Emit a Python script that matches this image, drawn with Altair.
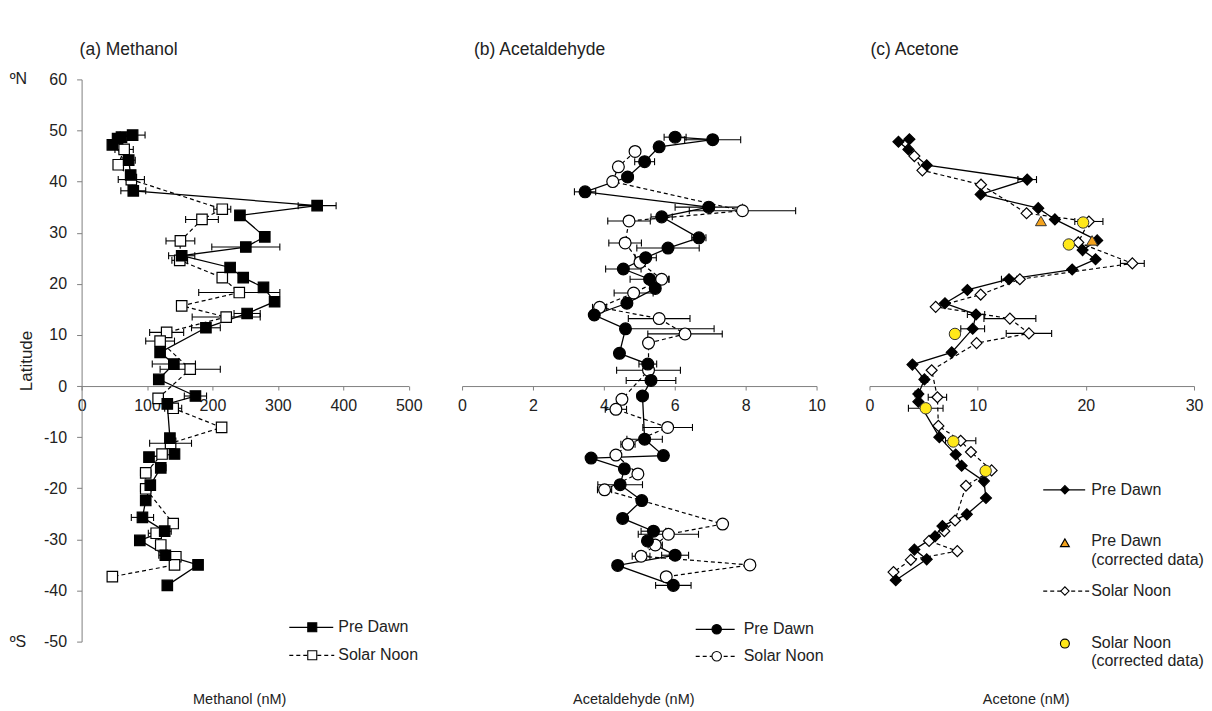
import altair as alt
import pandas as pd

FONT = "Liberation Sans"
TXT = "#222222"
AX = "#7f7f7f"

LAT_MIN, LAT_MAX = -50, 60
H = 563
W_A, W_B, W_C = 327.6, 355, 325
GAP = 53

# ---------------- (a) Methanol ----------------
meoh_pre_lat = [49.1, 48.7, 48.4, 47.2, 44.2, 41.3, 38.2, 35.3, 33.4, 29.2, 27.2, 25.5, 23.2, 21.2, 19.3,
                16.5, 14.2, 11.4, 6.6, 4.3, 1.3, -1.95, -3.5, -10.2, -13.3, -13.9, -16.0, -19.4, -22.4,
                -25.7, -28.4, -30.2, -33.1, -35.0, -39.0]
meoh_pre_val = [78, 61, 55, 47, 72, 75, 79, 360, 242, 280, 251, 153, 227, 247, 278,
                295, 253, 190, 120, 141, 118, 174, 131, 135, 142, 103, 121, 105, 98,
                93, 127, 89, 128, 178, 131]
meoh_pre_err = [19, 0, 0, 0, 10, 0, 19, 29, 0, 0, 52, 20, 0, 0, 0,
                0, 20, 22, 0, 33, 0, 17, 0, 0, 0, 0, 8, 0, 6,
                17, 10, 0, 10, 0, 0]
meoh_sn_lat = [46.3, 43.3, 40.4, 34.6, 32.6, 28.4, 24.6, 21.2, 18.3, 15.7, 13.5, 10.5, 8.8, 3.3,
               -2.4, -4.35, -8.1, -11.2, -13.3, -17.0, -20.1, -26.9, -28.8, -31.1, -33.4, -35.0, -37.3]
meoh_sn_val = [65, 56, 76, 215, 184, 151, 150, 215, 241, 153, 221, 130, 120, 166,
               117, 140, 214, 136, 123, 98, 98, 140, 114, 121, 144, 142, 47]
meoh_sn_err = [14, 0, 20, 13, 25, 22, 12, 0, 62, 5, 52, 26, 22, 46,
               0, 13, 0, 32, 0, 8, 8, 6, 12, 0, 0, 0, 0]

# ---------------- (b) Acetaldehyde ----------------
ald_pre_lat = [48.7, 48.2, 46.8, 43.9, 40.9, 38.0, 35.0, 33.1, 29.0, 27.0, 25.1, 22.9, 20.9, 19.1, 16.2,
               13.9, 11.2, 6.4, 4.3, 1.1, -1.95, -10.4, -13.6, -14.1, -16.2, -19.3, -22.4, -25.9,
               -28.4, -30.3, -33.1, -35.1, -39.0]
ald_pre_val = [6.01, 7.07, 5.56, 5.15, 4.67, 3.47, 6.96, 5.63, 6.68, 5.81, 5.18, 4.55, 5.29, 5.45, 4.65,
               3.73, 4.61, 4.44, 5.24, 5.33, 5.09, 5.15, 5.68, 3.64, 4.58, 4.46, 5.07, 4.53,
               5.40, 5.23, 6.01, 4.39, 5.96]
ald_pre_err = [0.31, 0.79, 0, 0.28, 0.15, 0.3, 0.95, 0.3, 0.2, 0.88, 0.3, 0.5, 0.55, 0, 0,
               0, 0, 0, 0.25, 0.7, 0.15, 0.5, 0, 0, 0, 0.63, 0, 0,
               0.35, 0, 0.38, 0, 0.5]
# one-sided (plus only) error bar of the pre-dawn point at 11.2 N
ald_pre_plus_lat = [11.2]
ald_pre_plus_val = [4.61]
ald_pre_plus_err = [2.5]
ald_sn_lat = [45.9, 42.9, 40.0, 34.3, 32.3, 28.0, 24.2, 20.9, 18.2, 15.4, 13.2, 10.2, 8.4, 3.1,
              -2.6, -4.55, -8.1, -11.4, -13.5, -17.2, -20.3, -27.0, -29.0, -31.1, -33.3, -35.0, -37.3]
ald_sn_val = [4.88, 4.41, 4.25, 7.91, 4.71, 4.60, 5.02, 5.63, 4.84, 3.88, 5.56, 6.29, 5.26, 5.26,
              4.51, 4.34, 5.80, 4.68, 4.34, 4.96, 4.02, 7.35, 5.82, 5.45, 5.05, 8.12, 5.76]
ald_sn_err = [0, 0, 0, 1.5, 0.6, 0.46, 0, 0.2, 0.55, 0.2, 0.87, 1.05, 0, 0.9,
              0, 0.3, 0.7, 0.2, 0, 0, 0.2, 0.1, 0.85, 0.2, 0.25, 0, 0]

# ---------------- (c) Acetone ----------------
ace_pre_lat = [48.3, 47.8, 46.3, 43.2, 40.4, 37.5, 34.8, 32.6, 28.5, 26.6, 24.8, 22.8, 20.9, 18.8, 16.2,
               14.0, 11.2, 6.6, 4.2, 1.3, -1.56, -3.05, -10.0, -13.4, -15.6, -18.6, -21.9, -25.1,
               -27.4, -29.4, -32.0, -33.9, -38.0]
ace_pre_val = [3.69, 2.68, 3.60, 5.29, 14.58, 10.28, 15.60, 17.14, 21.05, 19.70, 20.90, 18.74, 12.90, 9.05, 6.98,
               9.85, 9.54, 7.60, 3.97, 5.08, 4.52, 4.52, 6.46, 7.97, 8.52, 10.58, 10.77, 9.00,
               6.74, 6.06, 4.15, 5.29, 2.43]
ace_pre_err = [0, 0, 0, 0, 0.86, 0, 0, 0, 0, 0, 0, 0, 0.7, 0, 0,
               0.8, 1.1, 0, 0, 0.3, 0.3, 0, 0, 0, 0, 0, 0, 0,
               0, 0, 0, 0, 0]
ace_sn_lat = [45.0, 42.2, 39.4, 33.8, 32.2, 28.1, 24.0, 20.9, 17.9, 15.5, 13.2, 10.3, 8.4, 3.1,
              -2.2, -7.8, -10.7, -12.9, -16.5, -19.5, -26.3, -28.4, -30.3, -32.3, -34.0, -36.4]
ace_sn_val = [4.15, 4.89, 10.31, 14.52, 20.28, 19.30, 24.30, 13.90, 10.28, 6.12, 12.98, 14.74, 9.90, 5.75,
              6.28, 6.37, 8.43, 9.38, 11.29, 8.92, 7.91, 6.92, 5.51, 8.12, 3.82, 2.22]
ace_sn_err = [0, 0, 0, 0, 1.3, 0, 1.1, 0, 0, 0, 2.4, 2.1, 0, 0,
              0.85, 0, 1.4, 0, 0, 0, 0, 0, 0, 0, 0, 0]
ace_pre_corr_lat = [32.3, 28.5]
ace_pre_corr_val = [15.85, 20.58]
ace_sn_corr_lat = [32.0, 27.7, 10.2, -4.35, -10.85, -16.6]
ace_sn_corr_val = [19.75, 18.43, 7.90, 5.20, 7.75, 10.74]
ace_sn_corr_err = [0, 0, 0, 1.6, 0, 0]

ORANGE = "#F4A31E"
YELLOW = "#FFE81A"

ONE = pd.DataFrame({"k": [0]})
yscale = alt.Scale(domain=[LAT_MIN, LAT_MAX], nice=False, zero=False)


def sdf(lat, val, err=None, plus_only=False):
    if err is None:
        err = [0] * len(lat)
    d = pd.DataFrame({"lat": lat, "val": val, "err": err})
    d["lo"] = d["val"] if plus_only else d["val"] - d["err"]
    d["hi"] = d["val"] + d["err"]
    return d


def Y(axis=None):
    return alt.Y("lat:Q", scale=yscale, axis=axis)


def lg_line(x1, x2, y, dashed):
    kw = dict(color="black", strokeWidth=1.3)
    if dashed:
        kw["strokeDash"] = [4, 3]
    return alt.Chart(ONE).mark_rule(**kw).encode(x=alt.value(x1), x2=alt.value(x2), y=alt.value(y))


def lg_mark(x, y, shape, fill, size):
    return alt.Chart(ONE).mark_point(shape=shape, filled=True, fill=fill, stroke="black",
                                     strokeWidth=1.1, size=size, opacity=1).encode(
        x=alt.value(x), y=alt.value(y))


def lg_text(x, y, label):
    return alt.Chart(pd.DataFrame({"t": [label]})).mark_text(
        align="left", baseline="middle", font=FONT, fontSize=16, color=TXT).encode(
        x=alt.value(x), y=alt.value(y), text="t:N")


def errbars(d, xscale, caps=("lo", "hi")):
    d = d[d["err"] > 0]
    layers = [alt.Chart(d).mark_rule(color="black", strokeWidth=1.1).encode(
        x=alt.X("lo:Q", scale=xscale, axis=None), x2="hi:Q", y=Y())]
    for c in caps:
        layers.append(alt.Chart(d).mark_tick(orient="vertical", color="black", size=7, thickness=1.1,
                                             opacity=1).encode(
            x=alt.X(c + ":Q", scale=xscale, axis=None), y=Y()))
    return layers


def panel(pre, sn, shape, size, xdom, xticks, width, title, title_dx, title_offset, xtitle,
          legend, extra=None, yaxis=None):
    xscale = alt.Scale(domain=xdom, nice=False, zero=False)
    off = -H * (0 - LAT_MIN) / (LAT_MAX - LAT_MIN)
    axisA = alt.Axis(orient="bottom", offset=off, values=xticks, title=None, grid=False,
                     tickSize=4, labelPadding=7, labelFontSize=16, labelFont=FONT, labelColor=TXT,
                     domainColor=AX, tickColor=AX, labelFlush=False, labelOverlap=False)
    axisB = alt.Axis(orient="bottom", title=xtitle, grid=False, ticks=False, labels=False,
                     domainOpacity=0, titleFontSize=14.5, titleFont=FONT, titleColor=TXT,
                     titleFontWeight="normal", titlePadding=51, titleX=width / 2 - 6)
    order = alt.Order("lat:Q", sort="descending")
    line_pre = alt.Chart(pre).mark_line(color="black", strokeWidth=1.3).encode(
        x=alt.X("val:Q", scale=xscale, axis=axisA), y=Y(yaxis), order=order)
    line_sn = alt.Chart(sn).mark_line(color="black", strokeWidth=1.2, strokeDash=[4, 3]).encode(
        x=alt.X("val:Q", scale=xscale, axis=axisB), y=Y(), order=order)
    layers = [line_pre, line_sn]
    layers += errbars(pre, xscale) + errbars(sn, xscale)
    if extra:
        layers += extra(xscale, "back")
    pts_sn = alt.Chart(sn).mark_point(shape=shape, filled=True, fill="white", stroke="black",
                                      strokeWidth=1.2, size=size, opacity=1).encode(
        x=alt.X("val:Q", scale=xscale, axis=None), y=Y())
    pts_pre = alt.Chart(pre).mark_point(shape=shape, filled=True, fill="black", stroke="black",
                                        strokeWidth=1.2, size=size, opacity=1).encode(
        x=alt.X("val:Q", scale=xscale, axis=None), y=Y())
    layers += [pts_sn, pts_pre]
    if extra:
        layers += extra(xscale, "front")
    layers += legend
    return alt.layer(*layers).resolve_axis(x="independent", y="independent").properties(
        width=width, height=H,
        title=alt.TitleParams(title, anchor="start", frame="group", dx=title_dx, offset=title_offset,
                              fontSize=17.5, font=FONT, fontWeight="normal", color=TXT))


# ---- panel a ----
pre_a = sdf(meoh_pre_lat, meoh_pre_val, meoh_pre_err)
sn_a = sdf(meoh_sn_lat, meoh_sn_val, meoh_sn_err)
yaxis_a = alt.Axis(orient="left", values=list(range(LAT_MIN, LAT_MAX + 1, 10)), title="Latitude", grid=False,
                   tickSize=5, labelPadding=10, labelFontSize=16, labelFont=FONT, labelColor=TXT,
                   labelExpr="toString(datum.value)",
                   titleFontSize=17, titleFont=FONT, titleColor=TXT, titleFontWeight="normal",
                   titlePadding=8, domainColor=AX, tickColor=AX, labelFlush=False, labelOverlap=False)
hemi = pd.DataFrame({"lat": [LAT_MAX, LAT_MIN], "t": ["ºN", "ºS"]})
hemi_layer = alt.Chart(hemi).mark_text(align="left", baseline="middle", font=FONT, fontSize=16,
                                       color=TXT).encode(x=alt.value(-72), y=Y(), text="t:N")
legend_a = [
    lg_line(208, 252, 548.7, False), lg_mark(231, 548.7, "square", "black", 81), lg_text(257, 548.7, "Pre Dawn"),
    lg_line(208, 253, 576.7, True), lg_mark(231, 576.7, "square", "white", 81), lg_text(257, 576.7, "Solar Noon"),
    hemi_layer,
]
chart_a = panel(pre_a, sn_a, "square", 110, [0, 500], [0, 100, 200, 300, 400, 500], W_A,
                "(a) Methanol", -2, 13, "Methanol (nM)", legend_a, yaxis=yaxis_a)

# ---- panel b ----
pre_b = sdf(ald_pre_lat, ald_pre_val, ald_pre_err)
sn_b = sdf(ald_sn_lat, ald_sn_val, ald_sn_err)
plus_b = sdf(ald_pre_plus_lat, ald_pre_plus_val, ald_pre_plus_err, plus_only=True)


def extra_b(xscale, where):
    if where == "back":
        return errbars(plus_b, xscale, caps=("hi",))
    return []


legend_b = [
    lg_line(234, 273, 550.7, False), lg_mark(255, 550.7, "circle", "black", 90), lg_text(282, 550.7, "Pre Dawn"),
    lg_line(234, 276, 577.7, True), lg_mark(255, 577.7, "circle", "white", 90), lg_text(282, 577.7, "Solar Noon"),
]
chart_b = panel(pre_b, sn_b, "circle", 140, [0, 10], [0, 2, 4, 6, 8, 10], W_B,
                "(b) Acetaldehyde", 12, 21, "Acetaldehyde (nM)", legend_b, extra=extra_b)

# ---- panel c ----
pre_c = sdf(ace_pre_lat, ace_pre_val, ace_pre_err)
sn_c = sdf(ace_sn_lat, ace_sn_val, ace_sn_err)
pre_corr = sdf(ace_pre_corr_lat, ace_pre_corr_val)
sn_corr = sdf(ace_sn_corr_lat, ace_sn_corr_val, ace_sn_corr_err)


def extra_c(xscale, where):
    if where == "back":
        return []
    tri = alt.Chart(pre_corr).mark_point(shape="triangle-up", filled=True, fill=ORANGE, stroke="#333333",
                                         strokeWidth=1.0, size=120, opacity=1).encode(
        x=alt.X("val:Q", scale=xscale, axis=None), y=Y())
    circ = alt.Chart(sn_corr).mark_point(shape="circle", filled=True, fill=YELLOW, stroke="#333333",
                                         strokeWidth=1.0, size=130, opacity=1).encode(
        x=alt.X("val:Q", scale=xscale, axis=None), y=Y())
    return errbars(sn_corr, xscale) + [tri, circ]


legend_c = [
    lg_line(174, 216, 411, False), lg_mark(195.7, 411, "diamond", "black", 70), lg_text(222, 411, "Pre Dawn"),
    lg_mark(195.7, 464, "triangle-up", ORANGE, 80), lg_text(222, 462.7, "Pre Dawn"),
    lg_text(222, 481.7, "(corrected data)"),
    lg_line(174, 221, 512.4, True), lg_mark(195.7, 512.4, "diamond", "white", 70), lg_text(222, 512.4, "Solar Noon"),
    lg_mark(195.7, 565, "circle", YELLOW, 80), lg_text(222, 564, "Solar Noon"),
    lg_text(222, 582.7, "(corrected data)"),
]
chart_c = panel(pre_c, sn_c, "diamond", 120, [0, 30], [0, 10, 20, 30], W_C,
                "(c) Acetone", 1, 21, "Acetone (nM)", legend_c, extra=extra_c)

chart = alt.hconcat(chart_a, chart_b, chart_c, spacing=GAP, bounds="flush").properties(
    padding={"left": 1.7, "top": 32, "right": 0, "bottom": 0}
).configure_view(stroke="transparent", strokeWidth=0)

chart.save("out.html", embed_options={"renderer": "svg", "actions": False})
